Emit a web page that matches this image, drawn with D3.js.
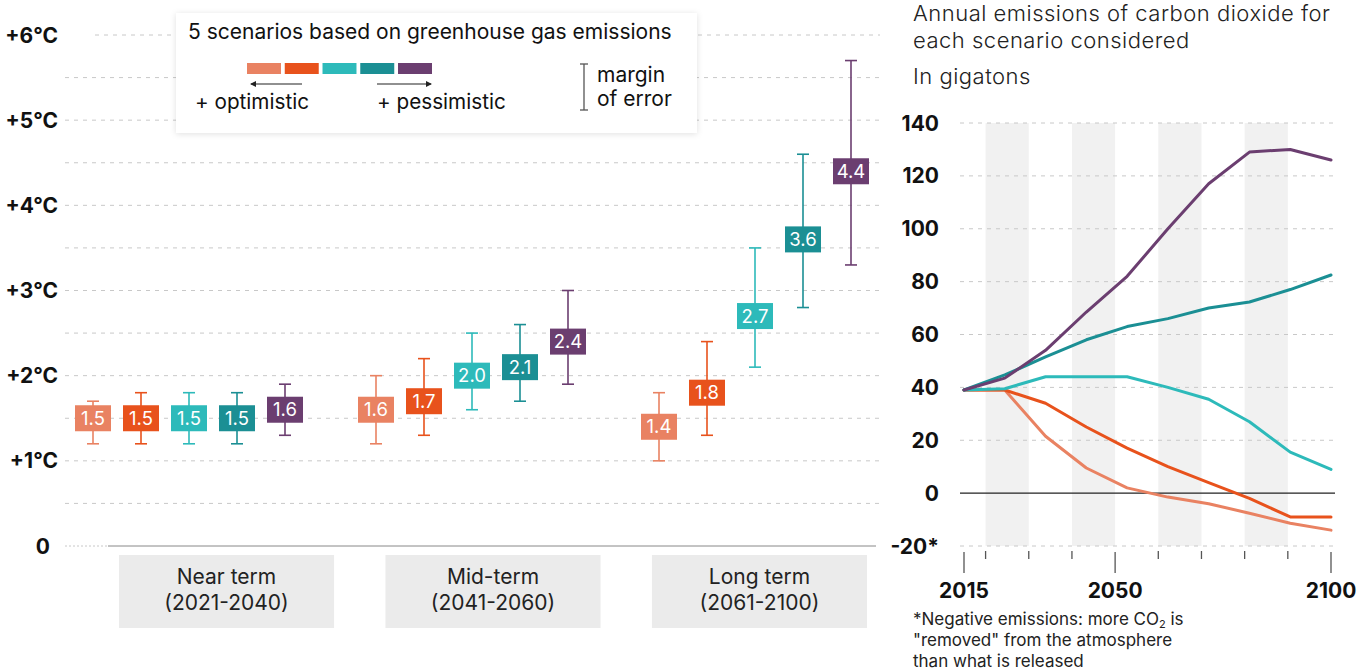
<!doctype html>
<html>
<head>
<meta charset="utf-8" />
<title>Warming scenarios + CO2 emissions</title>
<style>
  html,body{margin:0;background:#fff}
  body{width:1370px;height:672px;overflow:hidden;font-family:Inter, "Noto Sans", sans-serif}
  svg text{font-family:Inter, "Noto Sans", sans-serif}
  .grid{stroke:#c8c8c8;stroke-width:1;stroke-dasharray:4 5}
  .ylab{font-size:21px;font-weight:700;fill:#111}
</style>
<script src="https://cdn.jsdelivr.net/npm/d3@7"></script>
</head>
<body>
<svg id="chart" width="1370" height="672"></svg>
<script>
/* ───────────── data ───────────── */
const periods      = ["Near term", "Mid-term", "Long term"];
const periodYears  = ["(2021-2040)", "(2041-2060)", "(2061-2100)"];
const scenarios    = ["SSP1-1.9", "SSP1-2.6", "SSP2-4.5", "SSP3-7.0", "SSP5-8.5"];
const colors       = ["#e98262", "#e8521c", "#2dbaba", "#1b8f94", "#6b3e70"];

// best estimate, low and high end of warming (°C), one row per period
const bestEstimate = [[1.5, 1.5, 1.5, 1.5, 1.6], [1.6, 1.7, 2.0, 2.1, 2.4], [1.4, 1.8, 2.7, 3.6, 4.4]];
const lowEnd       = [[1.2, 1.2, 1.2, 1.2, 1.3], [1.2, 1.3, 1.6, 1.7, 1.9], [1.0, 1.3, 2.1, 2.8, 3.3]];
const highEnd      = [[1.7, 1.8, 1.8, 1.8, 1.9], [2.0, 2.2, 2.5, 2.6, 3.0], [1.8, 2.4, 3.5, 4.6, 5.7]];

const tempTicks    = [0, 1, 2, 3, 4, 5, 6];
const tempGrid     = [0.5, 1, 1.5, 2, 2.5, 3, 3.5, 4, 4.5, 5, 5.5, 6];

// annual CO2 emissions (Gt) per scenario
const emissionYears = [2015, 2020, 2030, 2040, 2050, 2060, 2070, 2080, 2090, 2100];
const co2_119 = [39, 39, 21.5, 9.5, 2, -1.5, -4, -7.6, -11.4, -14];
const co2_126 = [39, 39, 34, 25, 17, 10, 4, -2, -9, -9];
const co2_245 = [39, 39.5, 44, 44, 44, 40, 35.5, 27, 15.5, 9];
const co2_370 = [39, 44.7, 51.5, 58, 63, 66, 70, 72.3, 77, 82.5];
const co2_585 = [39, 43.5, 54, 68.5, 82, 100, 117, 129, 130, 126];
const co2Series = [co2_119, co2_126, co2_245, co2_370, co2_585];

const gtTicks      = [-20, 0, 20, 40, 60, 80, 100, 120, 140];
const yearMajor    = [2015, 2050, 2100];
const yearMinor    = [2020, 2030, 2040, 2060, 2070, 2080, 2090];
const decadeBands  = [[2020, 2030], [2040, 2050], [2060, 2070], [2080, 2090]];

/* ───────────── left chart ───────────── */
const svg = d3.select("#chart");

const defs = svg.append("defs");
const f = defs.append("filter").attr("id","shadow").attr("x","-10%").attr("y","-20%").attr("width","120%").attr("height","140%");
f.append("feDropShadow").attr("dx",0).attr("dy",1).attr("stdDeviation",3)
  .attr("flood-color","#000").attr("flood-opacity",0.12);

const y = d3.scaleLinear().domain([0, 6]).range([546, 35]);
const xPeriod = d3.scaleBand().domain(periods).range([69, 918]);
const xScen = d3.scalePoint().domain(scenarios).range([24, 216]);
const xLabelBox = d3.scaleBand().domain(periods).range([119, 867]).paddingInner(0.193);

const left = svg.append("g");

// dashed grid
left.selectAll("line.grid").data(tempGrid).join("line")
  .attr("class","grid")
  .attr("x1", d => d === 6 ? 95 : 65).attr("x2", 880)
  .attr("y1", d => y(d)).attr("y2", d => y(d));

// zero baseline: dotted then solid
left.append("line").attr("class","grid").attr("style","stroke-dasharray:2 2")
  .attr("x1",65).attr("x2",108).attr("y1",y(0)).attr("y2",y(0));
left.append("line").attr("stroke","#888").attr("stroke-width",1)
  .attr("x1",108).attr("x2",876).attr("y1",y(0)).attr("y2",y(0));

// y labels
left.selectAll("text.ylab").data(tempTicks).join("text")
  .attr("class","ylab")
  .attr("x", d => d === 0 ? 50 : 58)
  .attr("y", d => y(d)).attr("dy","0.36em")
  .attr("text-anchor","end")
  .text(d => d === 0 ? "0" : `+${d}°C`);

// period label boxes
const pl = left.selectAll("g.period").data(periods).join("g")
  .attr("transform", d => `translate(${xLabelBox(d)},555)`);
pl.append("rect").attr("width", xLabelBox.bandwidth()).attr("height",73).attr("fill","#ebebeb");
pl.append("text").attr("x", xLabelBox.bandwidth()/2).attr("y",29)
  .attr("text-anchor","middle").attr("font-size",21).attr("fill","#222")
  .text(d => d);
pl.append("text").attr("x", xLabelBox.bandwidth()/2).attr("y",55)
  .attr("text-anchor","middle").attr("font-size",21).attr("fill","#222")
  .text((d,i) => periodYears[i]);

// error bars + value boxes
const marks = [];
periods.forEach((p, pi) => scenarios.forEach((s, si) => marks.push({
  p, s, si, best: bestEstimate[pi][si], lo: lowEnd[pi][si], hi: highEnd[pi][si]
})));

const bw = 36, bh = 26, cap = 6;
const mg = left.selectAll("g.mark").data(marks).join("g")
  .attr("transform", d => `translate(${xPeriod(d.p) + xScen(d.s)},0)`);
mg.append("line").attr("y1", d => y(d.hi)).attr("y2", d => y(d.lo))
  .attr("stroke", d => colors[d.si]).attr("stroke-width",1.6);
mg.append("line").attr("x1",-cap).attr("x2",cap).attr("y1", d => y(d.hi)).attr("y2", d => y(d.hi))
  .attr("stroke", d => colors[d.si]).attr("stroke-width",1.6);
mg.append("line").attr("x1",-cap).attr("x2",cap).attr("y1", d => y(d.lo)).attr("y2", d => y(d.lo))
  .attr("stroke", d => colors[d.si]).attr("stroke-width",1.6);
mg.append("rect").attr("x",-bw/2).attr("y", d => y(d.best) - bh/2)
  .attr("width",bw).attr("height",bh).attr("fill", d => colors[d.si]);
mg.append("text").attr("y", d => y(d.best)).attr("dy","0.36em")
  .attr("text-anchor","middle").attr("font-size",18.5).attr("fill","#fff")
  .text(d => d3.format(".1f")(d.best));

/* ───────────── legend ───────────── */
const lg = svg.append("g");
lg.append("rect").attr("x",176).attr("y",13).attr("width",521).attr("height",120)
  .attr("fill","#fff").attr("filter","url(#shadow)");
lg.append("text").attr("x",188).attr("y",39).attr("font-size",21).attr("fill","#111")
  .text("5 scenarios based on greenhouse gas emissions");
const xSw = d3.scaleBand().domain(scenarios).range([247, 432]).paddingInner(0.1);
lg.selectAll("rect.sw").data(scenarios).join("rect")
  .attr("x", d => xSw(d)).attr("y",63).attr("width", xSw.bandwidth()).attr("height",11)
  .attr("fill", (d,i) => colors[i]);
// arrows
defs.append("marker").attr("id","arr").attr("viewBox","0 0 6 6").attr("refX",5).attr("refY",3)
  .attr("markerWidth",5).attr("markerHeight",5).attr("orient","auto-start-reverse")
  .append("path").attr("d","M0,0L6,3L0,6z").attr("fill","#222");
lg.append("line").attr("x1",302).attr("x2",251).attr("y1",84).attr("y2",84)
  .attr("stroke","#222").attr("stroke-width",1.2).attr("marker-end","url(#arr)");
lg.append("line").attr("x1",377).attr("x2",431).attr("y1",84).attr("y2",84)
  .attr("stroke","#222").attr("stroke-width",1.2).attr("marker-end","url(#arr)");
lg.append("text").attr("x",195).attr("y",109).attr("font-size",20.7).attr("fill","#111").text("+ optimistic");
lg.append("text").attr("x",377).attr("y",109).attr("font-size",20.7).attr("fill","#111").text("+ pessimistic");
// margin of error icon
lg.append("line").attr("x1",584).attr("x2",584).attr("y1",64).attr("y2",110).attr("stroke","#555").attr("stroke-width",1.3);
lg.append("line").attr("x1",580).attr("x2",588).attr("y1",64).attr("y2",64).attr("stroke","#555").attr("stroke-width",1.3);
lg.append("line").attr("x1",580).attr("x2",588).attr("y1",110).attr("y2",110).attr("stroke","#555").attr("stroke-width",1.3);
lg.append("text").attr("x",597).attr("y",82).attr("font-size",21).attr("fill","#111").text("margin");
lg.append("text").attr("x",597).attr("y",106).attr("font-size",21).attr("fill","#111").text("of error");

/* ───────────── right chart ───────────── */
const right = svg.append("g");
const yG = d3.scaleLinear().domain([-20, 140]).range([546, 123]);
const xYear = d3.scaleLinear().domain([2015, 2100]).range([964, 1331]);
// series points are drawn evenly spaced, as in the original graphic
const xPt = d3.scalePoint().domain(emissionYears).range([964, 1331]);

const titleSize = 22;
right.append("text").attr("x",913).attr("y",21).attr("font-size",titleSize).attr("font-weight",300)
  .attr("letter-spacing",0.5).attr("fill","#222")
  .text("Annual emissions of carbon dioxide for");
right.append("text").attr("x",913).attr("y",48).attr("font-size",titleSize).attr("font-weight",300)
  .attr("letter-spacing",0.5).attr("fill","#222")
  .text("each scenario considered");
right.append("text").attr("x",913).attr("y",84).attr("font-size",titleSize).attr("font-weight",300)
  .attr("letter-spacing",0.5).attr("fill","#222")
  .text("In gigatons");

right.selectAll("rect.band").data(decadeBands).join("rect")
  .attr("x", d => xYear(d[0])).attr("width", d => xYear(d[1]) - xYear(d[0]))
  .attr("y", yG(140)).attr("height", yG(-20) - yG(140)).attr("fill","#f1f1f1");

right.selectAll("line.grid").data(gtTicks.filter(d => d !== 0)).join("line")
  .attr("class","grid").attr("x1",960).attr("x2",1334)
  .attr("y1", d => yG(d)).attr("y2", d => yG(d));
right.append("line").attr("x1",960).attr("x2",1335).attr("y1",yG(0)).attr("y2",yG(0))
  .attr("stroke","#222").attr("stroke-width",1.2);

right.selectAll("text.ylab").data(gtTicks).join("text")
  .attr("class","ylab").attr("x",939).attr("y", d => yG(d)).attr("dy","0.36em")
  .attr("text-anchor","end").text(d => d === -20 ? "-20*" : d);

// x ticks
right.selectAll("line.maj").data(yearMajor).join("line")
  .attr("x1", d => xYear(d)).attr("x2", d => xYear(d)).attr("y1",552).attr("y2",573)
  .attr("stroke","#555").attr("stroke-width",1.3);
right.selectAll("line.min").data(yearMinor).join("line")
  .attr("x1", d => xYear(d)).attr("x2", d => xYear(d)).attr("y1",551).attr("y2",559)
  .attr("stroke","#555").attr("stroke-width",1.3);
right.selectAll("text.xlab").data(yearMajor).join("text")
  .attr("class","ylab").attr("x", d => xYear(d)).attr("y",598)
  .attr("text-anchor","middle").text(d => d);

const line = d3.line().x((d,i) => xPt(emissionYears[i])).y(d => yG(d));
right.selectAll("path.series").data(co2Series).join("path")
  .attr("d", line).attr("fill","none")
  .attr("stroke", (d,i) => colors[i]).attr("stroke-width",3)
  .attr("stroke-linejoin","round").attr("stroke-linecap","round");

// footnote
const fnSize = 17;
const fn1 = right.append("text").attr("x",913).attr("y",625).attr("font-size",fnSize).attr("fill","#222");
fn1.append("tspan").text("*Negative emissions: more CO");
fn1.append("tspan").attr("font-size",11).attr("dy",3).text("2");
fn1.append("tspan").attr("dy",-3).text(" is");
right.append("text").attr("x",913).attr("y",646).attr("font-size",fnSize).attr("fill","#222")
  .text("\"removed\" from the atmosphere");
right.append("text").attr("x",913).attr("y",667).attr("font-size",fnSize).attr("fill","#222")
  .text("than what is released");
</script>
</body>
</html>
